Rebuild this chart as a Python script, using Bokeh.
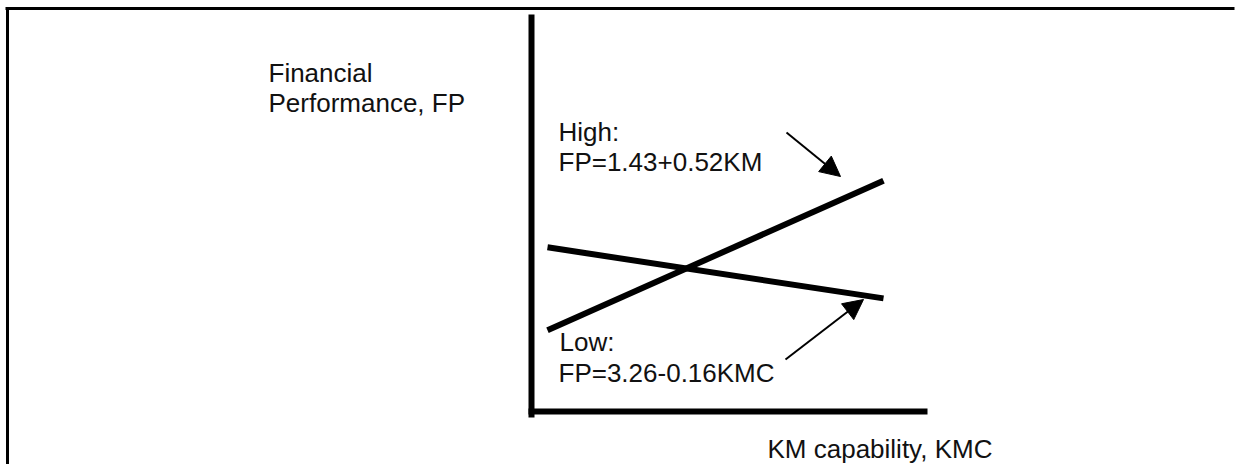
from bokeh.plotting import figure
from bokeh.models import Range1d, Arrow, NormalHead
from bokeh.core.properties import value
from bokeh.embed import file_html
from bokeh.resources import INLINE

# ---- data ----
kmc = [1.0, 5.0]
high_fp = [2.05, 4.07]   # High: FP = 1.43 + 0.52 KM
low_fp = [3.17, 2.48]    # Low:  FP = 3.26 - 0.16 KMC

y_title = ["Financial", "Performance, FP"]
x_title = ["KM capability, KMC"]
high_label = ["High:", "FP=1.43+0.52KM"]
low_label = ["Low:", "FP=3.26-0.16KMC"]

# ---- layout ----
W, H = 1252, 464
X0, X1 = -5.512, 9.393
Y0, Y1 = 0.235, 6.506


def px(xp):
    return X0 + xp / W * (X1 - X0)


def py(yp):
    return Y1 - yp / H * (Y1 - Y0)


p = figure(width=W, height=H, x_range=Range1d(X0, X1), y_range=Range1d(Y0, Y1),
           output_backend="svg", toolbar_location=None, min_border=0,
           x_axis_type=None, y_axis_type=None, outline_line_color=None,
           background_fill_color="white", border_fill_color="white")
p.grid.visible = False
p.outline_line_alpha = 0

FONT = value("Liberation Sans")

# outer frame (top and left edges) as filled bars
p.quad(left=[px(5), px(5.5)], right=[px(W - 18), px(8.5)],
       top=[py(6.5), py(6.5)], bottom=[py(9.5), py(H)],
       fill_color="black", line_color=None)

# conceptual axes
p.segment(x0=[px(531), px(528)], y0=[py(14), py(411)], x1=[px(531), px(927)], y1=[py(417), py(411)],
          line_color="black", line_width=6)

# the two regression lines
p.line(kmc, high_fp, line_color="black", line_width=6)
p.line(kmc, low_fp, line_color="black", line_width=6)

# arrows
p.add_layout(Arrow(end=NormalHead(size=20, fill_color="black", line_color="black"),
                   x_start=px(786), y_start=py(132), x_end=px(840), y_end=py(176),
                   line_color="black", line_width=2))
p.add_layout(Arrow(end=NormalHead(size=20, fill_color="black", line_color="black"),
                   x_start=px(785), y_start=py(359), x_end=px(863), y_end=py(299),
                   line_color="black", line_width=2))

# texts (y given at the middle of the capital letters)
txt = dict(text_font=FONT, text_font_size="26px", text_baseline="middle",
           text_align="left", text_color="#111111")
CM = 9  # baseline -> cap middle, px
p.text(x=[px(268), px(268)], y=[py(81 - CM), py(111 - CM)], text=y_title, **txt)
p.text(x=[px(558), px(558)], y=[py(140 - CM), py(170 - CM)], text=high_label, **txt)
p.text(x=[px(559), px(558)], y=[py(350 - CM), py(381 - CM)], text=low_label, **txt)
p.text(x=[px(767)], y=[py(457 - CM)], text=x_title, **txt)

open("out.html", "w").write(file_html(p, INLINE))
